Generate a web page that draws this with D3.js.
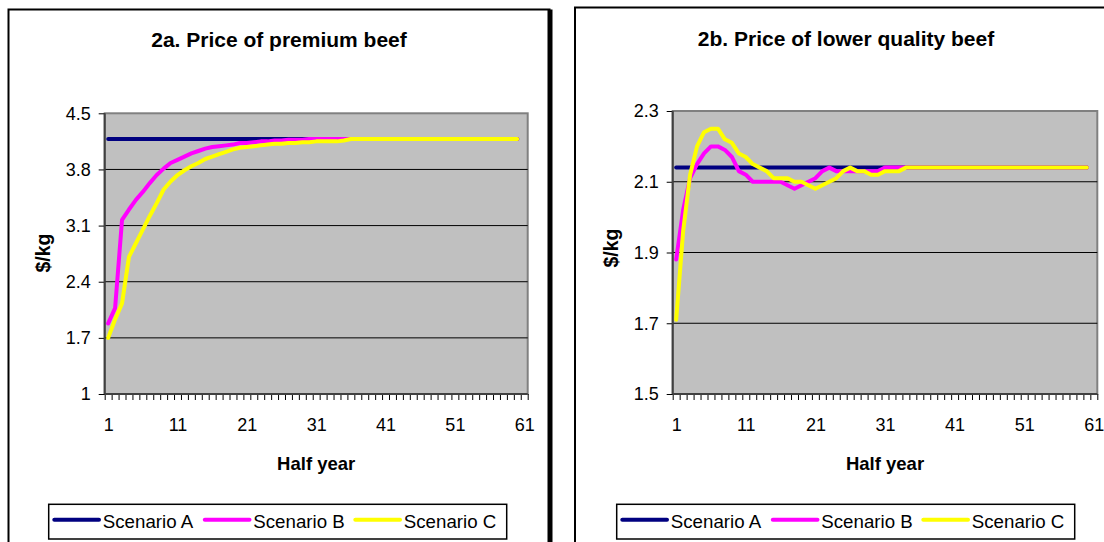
<!DOCTYPE html>
<html>
<head>
<meta charset="utf-8">
<script src="https://cdn.jsdelivr.net/npm/d3@7"></script>
<style>
  html, body { margin: 0; padding: 0; background: #fff; }
  svg { display: block; font-family: "Liberation Sans", Arial, sans-serif; }
</style>
</head>
<body>
<svg id="chart" width="1104" height="542"></svg>
<script>
// Half-year periods on the category axis
const halfYears = d3.range(1, 62);
const xTickLabels = [1, 11, 21, 31, 41, 51, 61];
const seriesNames = ["Scenario A", "Scenario B", "Scenario C"];
const seriesColors = ["#000080", "#FF00FF", "#FFFF00"];

// 2a. Price of premium beef ($/kg)
const premiumA = [4.18,4.18,4.18,4.18,4.18,4.18,4.18,4.18,4.18,4.18,
                  4.18,4.18,4.18,4.18,4.18,4.18,4.18,4.18,4.18,4.18,
                  4.18,4.18,4.18,4.18,4.18,4.18,4.18,4.18,4.18,4.18,
                  4.18,4.18,4.18,4.18,4.18,4.18,4.18,4.18,4.18,4.18,
                  4.18,4.18,4.18,4.18,4.18,4.18,4.18,4.18,4.18,4.18,
                  4.18,4.18,4.18,4.18,4.18,4.18,4.18,4.18,4.18,4.18];
const premiumB = [1.88,2.07,3.17,3.30,3.42,3.52,3.63,3.73,3.81,3.88,
                  3.92,3.96,4.00,4.03,4.06,4.08,4.09,4.10,4.11,4.13,
                  4.13,4.14,4.15,4.15,4.16,4.16,4.17,4.17,4.17,4.18,
                  4.18,4.18,4.18,4.18,4.18,4.18,4.18,4.18,4.18,4.18,
                  4.18,4.18,4.18,4.18,4.18,4.18,4.18,4.18,4.18,4.18,
                  4.18,4.18,4.18,4.18,4.18,4.18,4.18,4.18,4.18,4.18];
const premiumC = [1.70,1.93,2.13,2.71,2.88,3.05,3.22,3.38,3.55,3.65,
                  3.73,3.79,3.84,3.88,3.93,3.96,3.99,4.02,4.05,4.07,
                  4.08,4.09,4.10,4.11,4.12,4.12,4.13,4.13,4.14,4.14,
                  4.15,4.15,4.15,4.15,4.16,4.18,4.18,4.18,4.18,4.18,
                  4.18,4.18,4.18,4.18,4.18,4.18,4.18,4.18,4.18,4.18,
                  4.18,4.18,4.18,4.18,4.18,4.18,4.18,4.18,4.18,4.18];
const premiumTicks = [1, 1.7, 2.4, 3.1, 3.8, 4.5];

// 2b. Price of lower quality beef ($/kg)
const lowerA = [2.14,2.14,2.14,2.14,2.14,2.14,2.14,2.14,2.14,2.14,
                2.14,2.14,2.14,2.14,2.14,2.14,2.14,2.14,2.14,2.14,
                2.14,2.14,2.14,2.14,2.14,2.14,2.14,2.14,2.14,2.14,
                2.14,2.14,2.14,2.14,2.14,2.14,2.14,2.14,2.14,2.14,
                2.14,2.14,2.14,2.14,2.14,2.14,2.14,2.14,2.14,2.14,
                2.14,2.14,2.14,2.14,2.14,2.14,2.14,2.14,2.14,2.14];
const lowerB = [1.88,2.02,2.11,2.15,2.18,2.20,2.20,2.19,2.17,2.13,
                2.12,2.10,2.10,2.10,2.10,2.10,2.09,2.08,2.09,2.10,
                2.11,2.13,2.14,2.13,2.13,2.13,2.13,2.13,2.13,2.13,
                2.14,2.14,2.14,2.14,2.14,2.14,2.14,2.14,2.14,2.14,
                2.14,2.14,2.14,2.14,2.14,2.14,2.14,2.14,2.14,2.14,
                2.14,2.14,2.14,2.14,2.14,2.14,2.14,2.14,2.14,2.14];
const lowerC = [1.71,1.96,2.12,2.20,2.24,2.25,2.25,2.22,2.21,2.18,
                2.17,2.15,2.14,2.13,2.11,2.11,2.11,2.10,2.10,2.09,
                2.08,2.09,2.10,2.11,2.13,2.14,2.13,2.13,2.12,2.12,
                2.13,2.13,2.13,2.14,2.14,2.14,2.14,2.14,2.14,2.14,
                2.14,2.14,2.14,2.14,2.14,2.14,2.14,2.14,2.14,2.14,
                2.14,2.14,2.14,2.14,2.14,2.14,2.14,2.14,2.14,2.14];
const lowerTicks = [1.5, 1.7, 1.9, 2.1, 2.3];

const svg = d3.select("#chart");

function drawPanel(cfg) {
  const g = svg.append("g");

  // outer chart border, heavier on the right edge
  g.append("rect")
    .attr("x", cfg.frame.x).attr("y", cfg.frame.y)
    .attr("width", cfg.frame.w).attr("height", 600)
    .attr("fill", "#fff").attr("stroke", "#000").attr("stroke-width", 2);
  g.append("rect")
    .attr("x", cfg.frame.x + cfg.frame.w - 2).attr("y", cfg.frame.y)
    .attr("width", 5).attr("height", 600)
    .attr("fill", "#000");

  const p = cfg.plot;
  const x = d3.scaleLinear().domain([0.5, halfYears.length + 0.5]).range([p.l, p.r]);
  const y = d3.scaleLinear().domain(cfg.yDomain).range([p.b, p.t]);

  // plot area
  g.append("rect")
    .attr("x", p.l).attr("y", p.t)
    .attr("width", p.r - p.l).attr("height", p.b - p.t)
    .attr("fill", "#C0C0C0").attr("stroke", "#808080").attr("stroke-width", 2);

  // horizontal gridlines
  g.append("g").selectAll("line")
    .data(cfg.yTicks.slice(1, -1))
    .join("line")
    .attr("x1", p.l).attr("x2", p.r)
    .attr("y1", d => y(d)).attr("y2", d => y(d))
    .attr("stroke", "#000").attr("stroke-width", 1);

  // value axis
  const yAxis = g.append("g")
    .attr("transform", `translate(${p.l},0)`)
    .call(d3.axisLeft(y).tickValues(cfg.yTicks).tickFormat(d => String(d))
      .tickSize(6).tickPadding(8));
  yAxis.select(".domain").remove();
  yAxis.selectAll("line").attr("stroke", "#000");
  yAxis.selectAll("text").attr("font-size", 18).attr("fill", "#000")
    .attr("font-family", "Liberation Sans, Arial, sans-serif");

  // category axis: tick marks on category boundaries
  const boundaries = d3.range(0, halfYears.length + 1).map(i => i + 0.5);
  const xMarks = g.append("g")
    .attr("transform", `translate(0,${p.b})`)
    .call(d3.axisBottom(x).tickValues(boundaries).tickFormat("").tickSize(6));
  xMarks.select(".domain").remove();
  xMarks.selectAll("line").attr("stroke", "#000");

  // category labels
  const xLabels = g.append("g")
    .attr("transform", `translate(0,${p.b})`)
    .call(d3.axisBottom(x).tickValues(xTickLabels).tickFormat(d => String(d))
      .tickSize(0).tickPadding(24));
  xLabels.select(".domain").remove();
  xLabels.selectAll("text").attr("font-size", 18).attr("fill", "#000")
    .attr("font-family", "Liberation Sans, Arial, sans-serif");

  // axis lines
  g.append("line").attr("x1", p.l).attr("x2", p.l).attr("y1", p.t).attr("y2", p.b)
    .attr("stroke", "#404040").attr("stroke-width", 2);
  g.append("line").attr("x1", p.l).attr("x2", p.r).attr("y1", p.b).attr("y2", p.b)
    .attr("stroke", "#404040").attr("stroke-width", 2);

  // series lines
  const line = d3.line().x((d, i) => x(halfYears[i])).y(d => y(d));
  cfg.series.forEach((s, k) => {
    g.append("path")
      .datum(s)
      .attr("d", line)
      .attr("fill", "none")
      .attr("stroke", seriesColors[k])
      .attr("stroke-width", 4)
      .attr("stroke-linejoin", "round")
      .attr("stroke-linecap", "round");
  });

  // titles
  g.append("text")
    .attr("x", cfg.titleX).attr("y", cfg.titleY)
    .attr("text-anchor", "middle")
    .attr("font-size", 21).attr("font-weight", "bold")
    .text(cfg.title);

  g.append("text")
    .attr("x", (p.l + p.r) / 2).attr("y", p.b + 76)
    .attr("text-anchor", "middle")
    .attr("font-size", 18.5).attr("font-weight", "bold")
    .text("Half year");

  g.append("text")
    .attr("transform", `translate(${cfg.yTitleX},${cfg.yTitleY}) rotate(-90)`)
    .attr("text-anchor", "middle")
    .attr("dominant-baseline", "central")
    .attr("font-size", 19.5).attr("font-weight", "bold")
    .text("$/kg");

  // legend
  const L = cfg.legend;
  g.append("rect")
    .attr("x", L.x).attr("y", L.y).attr("width", 458).attr("height", 34.7)
    .attr("fill", "#fff").attr("stroke", "#000").attr("stroke-width", 1.5);
  seriesNames.forEach((name, k) => {
    const ox = L.x + 5.6 + k * 150.5;
    g.append("line")
      .attr("x1", ox).attr("x2", ox + 44.7)
      .attr("y1", L.y + 15.4).attr("y2", L.y + 15.4)
      .attr("stroke", seriesColors[k]).attr("stroke-width", 4)
      .attr("stroke-linecap", "round");
    g.append("text")
      .attr("x", ox + 48.5).attr("y", L.y + 23.8)
      .attr("font-size", 18.7)
      .text(name);
  });
}

drawPanel({
  frame: { x: 8.5, y: 9.5, w: 541 },
  plot: { l: 104.7, t: 113.3, r: 527.7, b: 394 },
  yDomain: [1, 4.5],
  yTicks: premiumTicks,
  series: [premiumA, premiumB, premiumC],
  title: "2a. Price of premium beef",
  titleX: 279, titleY: 47,
  yTitleX: 43.3, yTitleY: 253,
  legend: { x: 48.7, y: 504.3 }
});

drawPanel({
  frame: { x: 575, y: 7.5, w: 541 },
  plot: { l: 672.7, t: 111, r: 1097.3, b: 394 },
  yDomain: [1.5, 2.3],
  yTicks: lowerTicks,
  series: [lowerA, lowerB, lowerC],
  title: "2b. Price of lower quality beef",
  titleX: 846, titleY: 46,
  yTitleX: 610.7, yTitleY: 248,
  legend: { x: 616.7, y: 504.3 }
});
</script>
</body>
</html>
